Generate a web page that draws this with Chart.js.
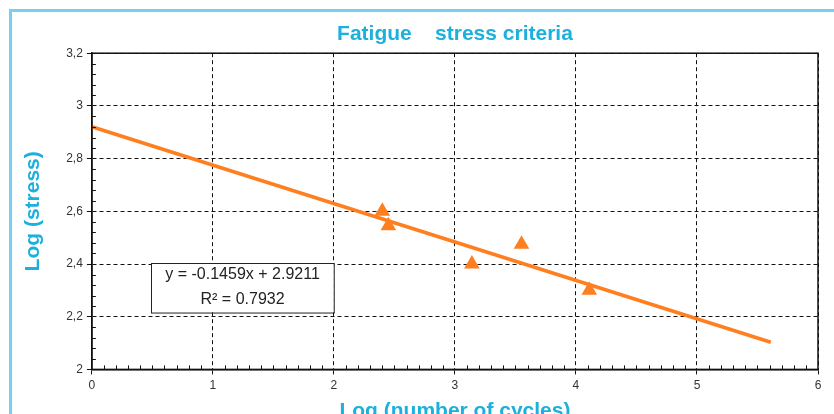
<!DOCTYPE html>
<html>
<head>
<meta charset="utf-8">
<script src="https://cdn.jsdelivr.net/npm/chart.js@4"></script>
<style>
    html, body { margin: 0; padding: 0; background: #fff; overflow: hidden; }
    #cadre { position: absolute; left: 9px; top: 9px; width: 900px; height: 500px; border: 3px solid #74d1ef; }
    #zona { position: absolute; left: 0; top: 0; width: 834px; height: 424px; }
</style>
</head>
<body>
<div id="cadre"></div>
<div id="zona"><canvas id="grafico-fadiga"></canvas></div>
<script>
/* DADOS */
const logCiclos = [2.40, 2.45, 3.14, 3.55, 4.11];
const logTensao = [2.60, 2.545, 2.40, 2.475, 2.30];
const tendenciaX = [0, 5.61];
const tendenciaY = [2.921, 2.103];
const ticksX = [0, 1, 2, 3, 4, 5, 6];
const ticksY = [2, 2.2, 2.4, 2.6, 2.8, 3, 3.2];
const equacao = ["y = -0.1459x + 2.9211", "R\u00b2 = 0.7932"];
/* FIM DADOS */

const azul = "#1cb0dd";
const laranja = "#ff7f1f";
const fonte = "'Liberation Sans', Arial, sans-serif";

/* PLUGIN: título centrado na área do gráfico, moldura, ticks menores, caixa da equação */
const extras = {
    id: 'extras',
    afterLayout(chart) {
        const t = chart.titleBlock;
        if (t) {
            t.left = chart.chartArea.left;
            t.right = chart.chartArea.right;
            t.width = t.right - t.left;
        }
    },
    afterDraw(chart) {
        const ctx = chart.ctx;
        const a = chart.chartArea;
        const sx = chart.scales.x;
        const sy = chart.scales.y;
        ctx.save();
        ctx.strokeStyle = "#111";
        ctx.lineWidth = 1.5;
        ctx.strokeRect(a.left, a.top, a.right - a.left, a.bottom - a.top);

        // ticks menores
        ctx.lineWidth = 1;
        ctx.beginPath();
        for (let i = 1; i < 60; i++) {
            if (i % 10 == 0) continue;
            const px = Math.round(sx.getPixelForValue(i / 10)) + 0.5;
            ctx.moveTo(px, a.bottom);
            ctx.lineTo(px, a.bottom - 4);
        }
        for (let i = 1; i < 30; i++) {
            if (i % 5 == 0) continue;
            const py = Math.round(sy.getPixelForValue(2 + i * 0.04)) + 0.5;
            ctx.moveTo(a.left, py);
            ctx.lineTo(a.left + 4, py);
        }
        ctx.stroke();

        // caixa da equação
        const x1 = sx.getPixelForValue(0.49), x2 = sx.getPixelForValue(2.0);
        const y1 = sy.getPixelForValue(2.405), y2 = sy.getPixelForValue(2.217);
        ctx.fillStyle = "#fff";
        ctx.fillRect(x1, y1, x2 - x1, y2 - y1);
        ctx.strokeStyle = "#222";
        ctx.lineWidth = 1;
        ctx.strokeRect(Math.round(x1) + 0.5, Math.round(y1) + 0.5, x2 - x1, y2 - y1);
        ctx.fillStyle = "#222";
        ctx.font = "16px " + fonte;
        ctx.textAlign = "center";
        ctx.textBaseline = "middle";
        const cx = (x1 + x2) / 2;
        const h = (y2 - y1) / equacao.length;
        equacao.forEach((linha, i) => ctx.fillText(linha, cx, y1 + h * (i + 0.5)));
        ctx.restore();
    }
};
/* FIM PLUGIN */

/* GRÁFICO FADIGA */
new Chart(document.getElementById("grafico-fadiga"), {
    type: 'scatter',
    data: {
        datasets: [{
            label: "Tendência",
            data: tendenciaX.map((x, i) => ({ x: x, y: tendenciaY[i] })),
            showLine: true,
            borderColor: laranja,
            borderWidth: 3.5,
            pointRadius: 0,
            fill: false
        }, {
            label: "Ensaios",
            data: logCiclos.map((x, i) => ({ x: x, y: logTensao[i] })),
            pointStyle: 'triangle',
            pointRadius: 9,
            backgroundColor: laranja,
            borderColor: laranja,
            borderWidth: 0
        }]
    },
    options: {
        responsive: true,
        maintainAspectRatio: false,
        animation: false,
        layout: { padding: { left: 17, right: 16, top: 0, bottom: 0 } },
        plugins: {
            legend: { display: false },
            tooltip: { enabled: false },
            title: {
                display: true,
                text: "Fatigue    stress criteria",
                color: azul,
                font: { family: fonte, size: 21, weight: 'bold' },
                padding: { top: 22, bottom: 6 }
            }
        },
        scales: {
            x: {
                type: 'linear',
                min: 0,
                max: 6,
                afterBuildTicks: s => { s.ticks = ticksX.map(v => ({ value: v })); },
                ticks: {
                    color: "#333",
                    font: { family: fonte, size: 12 },
                    padding: 4,
                    maxRotation: 0
                },
                grid: { color: "#111", lineWidth: 1, tickLength: 5, tickColor: "#111" },
                border: { display: true, color: "#111", width: 1.5, dash: [4, 3] },
                title: {
                    display: true,
                    text: "Log (number of cycles)",
                    color: azul,
                    font: { family: fonte, size: 21, weight: 'bold' },
                    padding: { top: 2, bottom: 0 }
                }
            },
            y: {
                type: 'linear',
                min: 2,
                max: 3.2,
                afterBuildTicks: s => { s.ticks = ticksY.map(v => ({ value: v })); },
                ticks: {
                    color: "#333",
                    font: { family: fonte, size: 12 },
                    padding: 4,
                    callback: v => String(Math.round(v * 10) / 10).replace(".", ",")
                },
                grid: { color: "#111", lineWidth: 1, tickLength: 5, tickColor: "#111" },
                border: { display: true, color: "#111", width: 1.5, dash: [4, 3] },
                title: {
                    display: true,
                    text: "Log (stress)",
                    color: azul,
                    font: { family: fonte, size: 21, weight: 'bold' },
                    padding: { top: 4, bottom: 16 }
                }
            }
        }
    },
    plugins: [extras]
});
/* FIM GRÁFICO FADIGA */
</script>
</body>
</html>
